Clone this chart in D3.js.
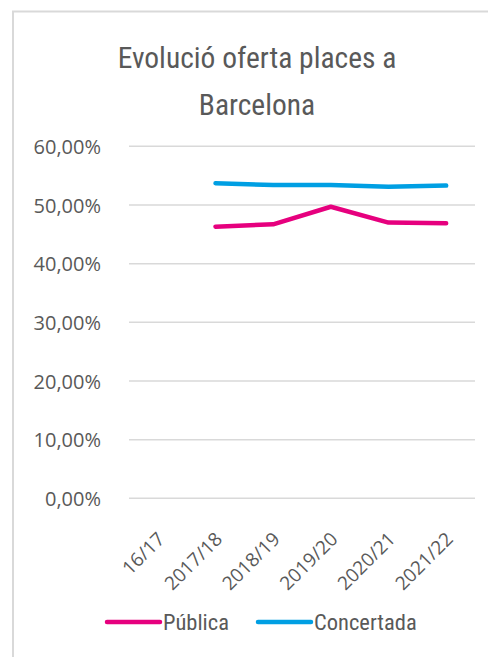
<!DOCTYPE html>
<html>
<head>
<meta charset="utf-8">
<script src="https://cdn.jsdelivr.net/npm/d3@7"></script>
<style>
  html, body { margin: 0; padding: 0; background: #fff; }
  svg { display: block; }
</style>
</head>
<body>
<svg id="chart" width="488" height="657"></svg>
<script>
const categories = ["16/17", "2017/18", "2018/19", "2019/20", "2020/21", "2021/22"];
const publica = [null, 0.463, 0.467, 0.497, 0.470, 0.469];
const concertada = [null, 0.537, 0.534, 0.534, 0.531, 0.533];
const yTicks = [0, 0.1, 0.2, 0.3, 0.4, 0.5, 0.6];
const titleLines = ["Evolució oferta places a", "Barcelona"];
const seriesNames = ["Pública", "Concertada"];
const seriesColors = ["#E6007E", "#009FE3"];

const svg = d3.select("#chart");
const condensed = "'Liberation Sans Narrow', 'Roboto Condensed', 'DejaVu Sans Condensed', sans-serif";
const regular = "'Open Sans', 'Noto Sans', sans-serif";
const textColor = "#595959";

// frame
svg.append("path")
  .attr("d", "M13,657 L13,11.5 L488,11.5")
  .attr("fill", "none")
  .attr("stroke", "#d9d9d9")
  .attr("stroke-width", 2);

// title
svg.append("g").selectAll("text").data(titleLines).join("text")
  .attr("x", 257)
  .attr("y", (d, i) => 68 + i * 47)
  .attr("text-anchor", "middle")
  .attr("font-family", condensed)
  .attr("font-size", 29.5)
  .attr("fill", textColor)
  .text(d => d);

const x = d3.scaleBand().domain(categories).range([129, 475]).padding(0);
const y = d3.scaleLinear().domain([0, 0.6]).range([498.3, 146.3]);

// gridlines
svg.append("g").selectAll("line").data(yTicks).join("line")
  .attr("x1", 129).attr("x2", 475)
  .attr("y1", d => y(d)).attr("y2", d => y(d))
  .attr("stroke", "#d9d9d9").attr("stroke-width", 1.5);

// y axis labels
const fmt = v => (v * 100).toFixed(2).replace(".", ",") + "%";
const yAxis = d3.axisLeft(y).tickValues(yTicks).tickFormat(fmt).tickSize(0).tickPadding(0);
const yg = svg.append("g").attr("transform", "translate(101,0)").call(yAxis);
yg.select(".domain").remove();
yg.selectAll("text")
  .attr("font-family", regular)
  .attr("font-size", 20)
  .attr("fill", textColor)
  .attr("dy", "0.36em");

// x axis labels
const xAxis = d3.axisBottom(x).tickSize(0).tickPadding(0);
const xg = svg.append("g").attr("transform", "translate(0,498.3)").call(xAxis);
xg.select(".domain").remove();
xg.selectAll("text")
  .attr("font-family", regular)
  .attr("font-size", 19)
  .attr("fill", textColor)
  .attr("text-anchor", "end")
  .attr("dy", null)
  .attr("y", 0)
  .attr("transform", "translate(8,42) rotate(-45)");

// lines
const series = [publica, concertada];
const line = d3.line()
  .defined(d => d != null)
  .x((d, i) => x(categories[i]) + x.bandwidth() / 2)
  .y(d => y(d));
svg.append("g").selectAll("path").data(series).join("path")
  .attr("d", d => line(d))
  .attr("fill", "none")
  .attr("stroke", (d, i) => seriesColors[i])
  .attr("stroke-width", 4.5)
  .attr("stroke-linecap", "round")
  .attr("stroke-linejoin", "round");

// legend
const legendX = [107, 258];
const lg = svg.append("g").selectAll("g").data(seriesNames).join("g")
  .attr("transform", (d, i) => `translate(${legendX[i]},622)`);
lg.append("line")
  .attr("x1", 0).attr("x2", 53).attr("y1", 0).attr("y2", 0)
  .attr("stroke", (d, i) => seriesColors[i])
  .attr("stroke-width", 4.5)
  .attr("stroke-linecap", "round");
lg.append("text")
  .attr("x", 56).attr("y", 0).attr("dy", "0.35em")
  .attr("font-family", condensed)
  .attr("font-size", 22.5)
  .attr("fill", textColor)
  .text(d => d);
</script>
</body>
</html>
